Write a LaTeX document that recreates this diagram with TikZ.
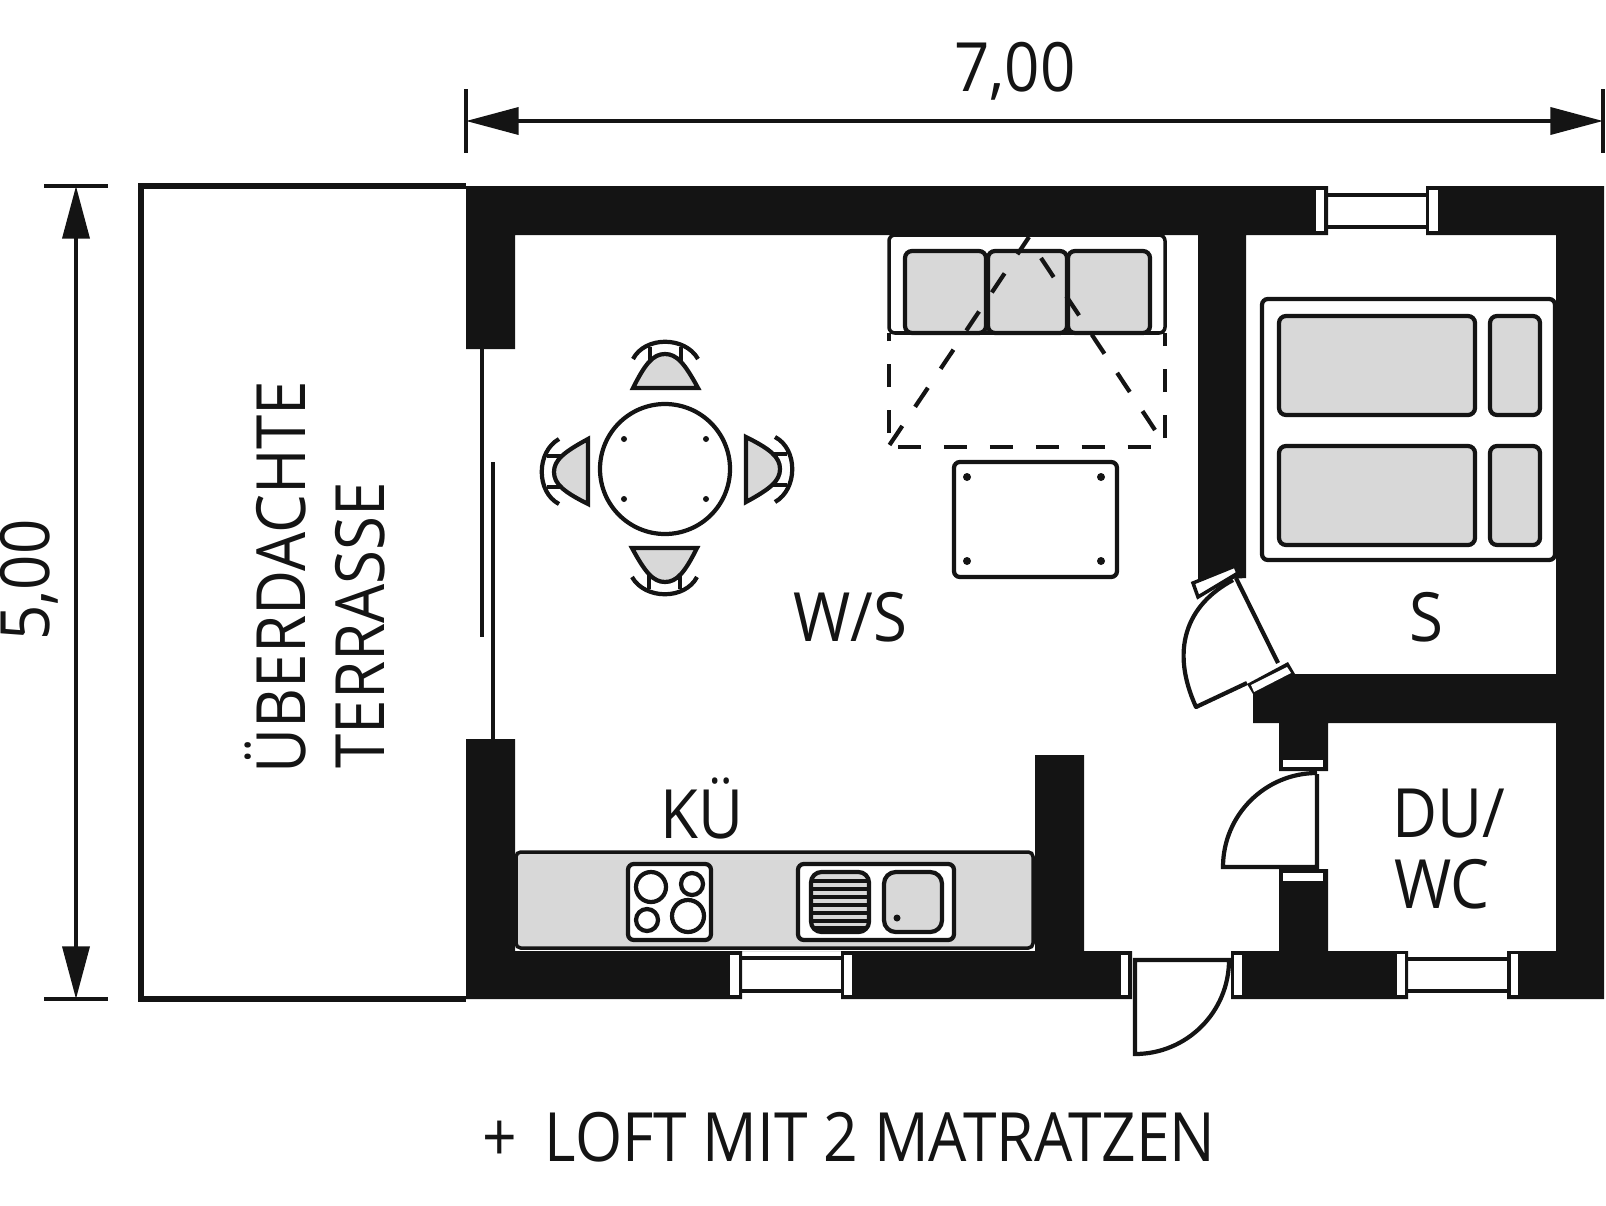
\documentclass[tikz,border=0pt]{standalone}
\usepackage{fontspec}
\setmainfont{Open Sans}
\usetikzlibrary{arrows.meta}
\definecolor{wallblack}{HTML}{141414}
\definecolor{cushion}{HTML}{D8D8D8}

\begin{document}
\begin{tikzpicture}[x=.03cm,y=-.03cm,
      wall/.style={fill=wallblack,draw=none},
      slot/.style={fill=white,draw=none},
      outline/.style={draw=wallblack,line width=3.6pt},
      thin outline/.style={draw=wallblack,line width=3pt},
      soft/.style={outline,fill=cushion,rounded corners=6pt},
      plain/.style={outline,fill=white,rounded corners=5pt},
      folded/.style={draw=wallblack,line width=3.6pt,dash pattern=on 19.6pt off 19.6pt},
      measure/.style={draw=wallblack,line width=3.4pt,{Triangle[length=45pt,width=23pt]}-{Triangle[length=45pt,width=23pt]}},
      tick/.style={draw=wallblack,line width=3.4pt},
      label/.style={font=\fontsize{58}{64}\selectfont,text=wallblack,inner sep=0pt,xscale=.91}]

      \useasboundingbox (0,0) rectangle (1606,1205);

      % walls
      \fill[wall] (466,186) -- (1328,186) -- (1328,235) -- (1246,235) -- (1246,578) -- (1198,581) -- (1198,235)
        -- (515,235) -- (515,349) -- (466,349) -- cycle;
      \fill[wall] (1426,186) -- (1604,186) -- (1604,999) -- (1507,999) -- (1507,951) -- (1556,951) -- (1556,723)
        -- (1328,723) -- (1328,771) -- (1279,771) -- (1279,723) -- (1253,723) -- (1253,694) -- (1247,684)
        -- (1288,662) -- (1295,674) -- (1556,674) -- (1556,235) -- (1426,235) -- cycle;
      \fill[wall] (1279,869) -- (1328,869) -- (1328,951) -- (1408,951) -- (1408,999) -- (1231,999) -- (1231,951)
        -- (1279,951) -- cycle;
      \fill[wall] (466,739) -- (515,739) -- (515,951) -- (1035,951) -- (1035,755) -- (1084,755) -- (1084,951)
        -- (1132,951) -- (1132,999) -- (841,999) -- (841,951) -- (742,951) -- (742,999) -- (466,999) -- cycle;

      % terrace and sliding door
      \draw[outline,line width=4.8pt] (466,186) -- (141,186) -- (141,999) -- (466,999);
      \draw[thin outline] (482,349) -- (482,637);
      \draw[thin outline] (493,462) -- (493,739);

      % window and door slots
      \foreach \xa/\ya/\xb/\yb in {1316/190/1324/231,1429/190/1438/231,730/955/739/995,844/955/852/995,
          1397/954/1405/995,1511/954/1518/995,1121/955/1128/995,1234/955/1242/995,1283/760/1323/767,1283/873/1323/881} {
        \fill[slot] (\xa,\ya) rectangle (\xb,\yb);
      }
      \foreach \xa/\xb/\ya/\yb in {1328/1426/195/227,742/841/958/991,1408/1507/959/991} {
        \draw[thin outline] (\xa,\ya) -- (\xb,\ya) (\xa,\yb) -- (\xb,\yb);
      }
      \fill[slot] (1251,685) -- (1287,667) -- (1291,673) -- (1254,692) -- cycle;
      \draw[thin outline,fill=white] (1193,583) -- (1235,566) -- (1238,573) -- (1198,597) -- cycle;

      % doors
      \draw[outline] (1236,578) -- (1278,663);
      \draw[outline,line join=round] (1247,683) -- (1196,707) .. controls (1170,650) and (1186,605) .. (1233,580);
      \draw[outline] (1317,774) -- (1317,867) -- (1223,867) arc[start angle=180,end angle=270,radius=94];
      \draw[outline] (1231,960) -- (1135,960) -- (1135,1054) arc[start angle=90,end angle=0,radius=94];

      % sofa
      \draw[thin outline,fill=white,rounded corners=5pt] (889,235) rectangle (1165,333);
      \foreach \xa/\xb in {905/986,988/1067,1068/1150} {
        \draw[soft] (\xa,251) rectangle (\xb,333);
      }
      \draw[folded] (889,433) -- (889,333);
      \draw[folded] (1165,438) -- (1165,333);
      \draw[folded] (898,447) -- (1151,447);
      \draw[folded] (889.5,445) -- (1029,237);
      \draw[folded] (1041,258) -- (1155,430);

      % coffee table
      \draw[plain] (954,462) rectangle (1117,577);
      \foreach \x/\y in {967/477,1101/477,967/561,1101/561} {
        \fill[wallblack] (\x,\y) circle (4);
      }

      % dining table
      \draw[outline] (665,469) circle (65);
      \foreach \x in {-41,41} {
        \foreach \y in {-30,30} {
          \fill[wallblack] (665+\x,469+\y) circle (3);
        }
      }
      \foreach \r/\x/\y in {0/665/469,90/669/472,180/665/467,270/665/469} {
        \begin{scope}[shift={(\x,\y)},rotate=\r]
          \draw[outline] (-32,-110) .. controls (-20,-133) and (20,-133) .. (33,-110);
          \draw[thin outline] (-15,-122) -- (-15,-108) (16,-122) -- (16,-108);
          \draw[outline,fill=cushion,line join=miter] (-32,-81) .. controls (-20,-105) and (-12,-115) .. (0,-115)
            .. controls (12,-115) and (20,-105) .. (33,-81) -- cycle;
        \end{scope}
      }

      % bunk beds
      \draw[plain] (1262,299) rectangle (1555,560);
      \foreach \ya/\yb in {316/415,446/545} {
        \draw[soft] (1279,\ya) rectangle (1475,\yb);
        \draw[soft] (1490,\ya) rectangle (1540,\yb);
      }

      % kitchen
      \draw[thin outline,fill=cushion,rounded corners=4pt] (516,852) rectangle (1033,948);
      \draw[plain] (628,864) rectangle (711,940);
      \foreach \x/\y/\r in {651/887/15,692/884/11,647/920/11,688/916/16} {
        \draw[outline] (\x,\y) circle (\r);
      }
      \draw[plain] (798,864) rectangle (954,940);
      \draw[soft,rounded corners=9pt] (811,872) rectangle (869,932);
      \foreach \y in {881,889,897,905,913,921,928} {
        \draw[thin outline,line width=2.6pt] (812,\y) -- (868,\y);
      }
      \draw[soft,rounded corners=10pt] (884,872) rectangle (942,932);
      \fill[wallblack] (897,918) circle (3.5);

      % measures
      \coordinate (topleft) at (466,121);
      \coordinate (topright) at (1603,121);
      \coordinate (lefttop) at (76,186);
      \coordinate (leftbottom) at (76,999);
      \draw[measure] (topleft) -- (topright);
      \draw[measure] (lefttop) -- (leftbottom);
      \draw[tick] (466,89) -- (466,153);
      \draw[tick] (1603,89) -- (1603,153);
      \draw[tick] (44,186) -- (108,186);
      \draw[tick] (44,999) -- (108,999);

      \node[label] (width) at (1015,71) {7,00};
      \node[rotate=90,label] (height) at (29,580) {5,00};
      \node[rotate=90,label] (terrace1) at (275,577) {ÜBERDACHTE};
      \node[rotate=90,label] (terrace2) at (360,625) {TERRASSE};
      \node[label] (living) at (850,617) {W/S};
      \node[label] (kitchen) at (702,808) {KÜ};
      \node[label] (sleep) at (1426,617) {S};
      \node[label] (shower) at (1449,814) {DU/};
      \node[label] (toilet) at (1442,884) {WC};
      \node[label,xscale=.98] (loft) at (849,1137) {+\hspace{.2em} LOFT MIT 2 MATRATZEN};

    \end{tikzpicture}
\end{document}
